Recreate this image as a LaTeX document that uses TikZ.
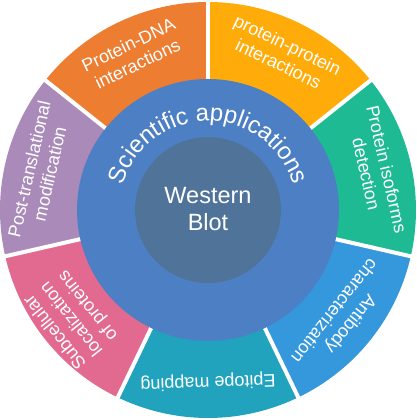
\documentclass[tikz,border=0pt]{standalone}
\usepackage{fontspec}
\setmainfont{Liberation Sans}
\usetikzlibrary{decorations.text}
\definecolor{cOrange}{HTML}{ED7D31}
\definecolor{cYellow}{HTML}{FFAC0A}
\definecolor{cGreen}{HTML}{1DBA94}
\definecolor{cBlue}{HTML}{3597DC}
\definecolor{cCyan}{HTML}{21A3BE}
\definecolor{cPink}{HTML}{E26A91}
\definecolor{cPurple}{HTML}{A98AB8}
\definecolor{cMid}{HTML}{4D7FC5}
\definecolor{cInner}{HTML}{50739A}
\tikzset{
  lab/.style={text=white, align=center, font=\fontsize{18}{21}\selectfont, inner sep=0pt},
  sep/.style={white, line width=4pt},
}
\begin{document}
\begin{tikzpicture}[x=1pt,y=1pt]
\useasboundingbox (-208,-210) rectangle (209,210);
\def\R{208}
% wedges
\foreach \a/\b/\c in {90/141.43/cOrange, 141.43/192.86/cPurple, 192.86/244.29/cPink, 244.29/295.71/cCyan, 295.71/347.14/cBlue, 347.14/398.57/cGreen, 38.57/90/cYellow}{
  \fill[\c] (0,0) -- (\a:\R) arc[start angle=\a, end angle=\b, radius=\R] -- cycle;
}
\foreach \a in {90, 141.43, 192.86, 244.29, 295.71, 347.14, 38.57}{
  \draw[sep] (0,0) -- (\a:\R+2);
}
% labels
\node[lab, rotate=25.71]  (pdna) at (115.71:173) {Protein-DNA\\interactions};
\node[lab, rotate=-25.71] (pp)   at (64.29:173)  {protein-protein\\interactions};
\node[lab, rotate=-77.14] (iso)  at (12.86:173)  {Protein isoforms\\detection};
\node[lab, rotate=231.43] (ab)   at (321.43:173) {Antibody\\characterization};
\node[lab, rotate=182]    (epi)  at (270:172)    {Epitope mapping};
\node[lab, rotate=128.57] (sub)  at (218.57:174) {Subcellular\\localization\\of proteins};
\node[lab, rotate=77.14]  (ptm)  at (167.14:173) {Post-translational\\modification};
% middle ring
\fill[cMid] (0,0) circle[radius=131];
\path[decorate, decoration={text along path, text align=center,
  text color=white, text={|\fontsize{24}{28}\selectfont|Scientific applications}}]
  (168:89) arc[start angle=168, end angle=12, radius=89];
% inner
\fill[cInner] (0,0) circle[radius=73];
\node[text=white, align=center, font=\fontsize{23.5}{27}\selectfont] (wb) at (0,1) {Western\\Blot};
\end{tikzpicture}
\end{document}
